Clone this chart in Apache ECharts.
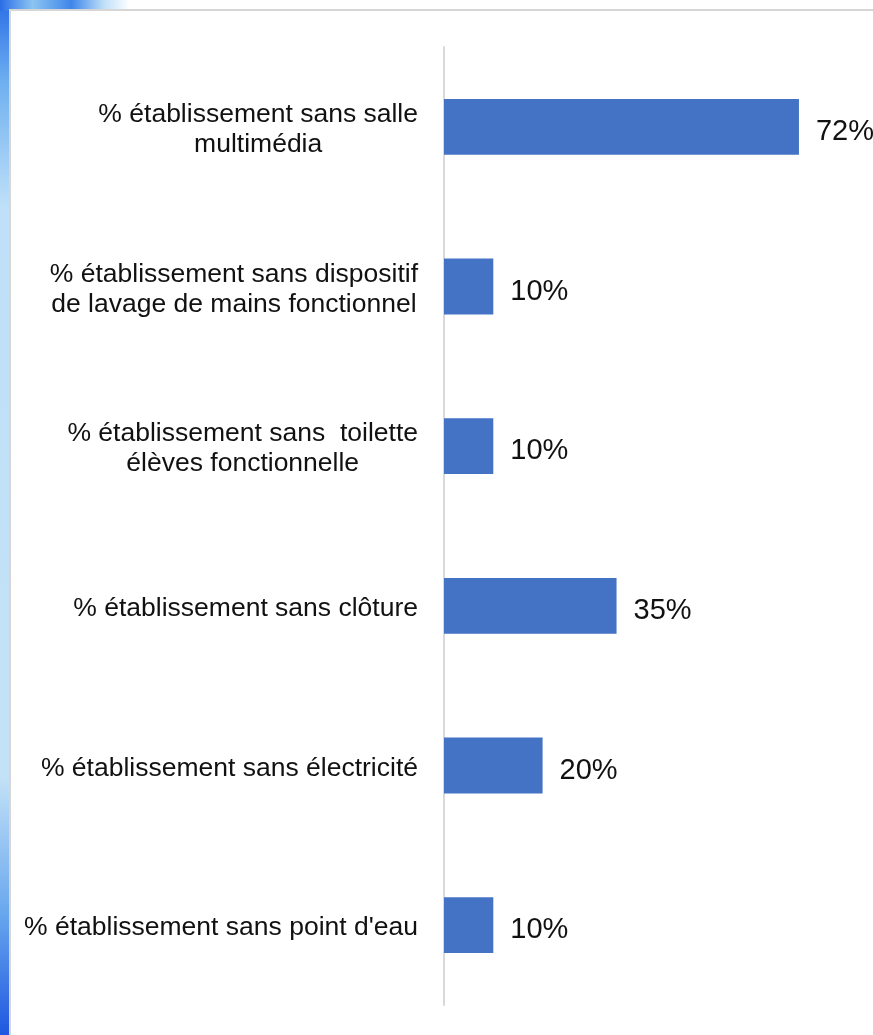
<!DOCTYPE html>
<html>
<head>
<meta charset="utf-8">
<script src="https://cdn.jsdelivr.net/npm/echarts@6/dist/echarts.min.js"></script>
<style>
html,body{margin:0;padding:0;background:#fff;}
#c{width:873px;height:1035px;}
</style>
</head>
<body>
<div id="c"></div>
<script>
const categories = [
  "% établissement sans salle\nmultimédia",
  "% établissement sans dispositif\nde lavage de mains fonctionnel",
  "% établissement sans  toilette\nélèves fonctionnelle",
  "% établissement sans clôture",
  "% établissement sans électricité",
  "% établissement sans point d'eau"
];
const values = [72, 10, 10, 35, 20, 10];

const FONT = '"Liberation Sans", Arial, sans-serif';
const chart = echarts.init(document.getElementById('c'), null, {renderer: 'canvas'});
chart.setOption({
  animation: false,
  backgroundColor: '#ffffff',
  graphic: [
    {type: 'rect', z: -10, silent: true, shape: {x: 0, y: 0, width: 11, height: 1035},
     style: {fill: new echarts.graphic.LinearGradient(0, 0, 0, 1, [
       {offset: 0, color: '#2a6de6'}, {offset: 0.08, color: '#6fb0f0'}, {offset: 0.2, color: '#bfe0f8'},
       {offset: 0.75, color: '#c4e2f7'}, {offset: 0.88, color: '#6aa8ee'}, {offset: 1, color: '#1f57e0'}])}},
    {type: 'rect', z: -10, silent: true, shape: {x: 0, y: 0, width: 130, height: 11},
     style: {fill: new echarts.graphic.LinearGradient(0, 0, 1, 0, [
       {offset: 0, color: '#2a6de6'}, {offset: 0.25, color: '#8cc4f2'}, {offset: 0.55, color: '#3f86ea'},
       {offset: 0.8, color: '#bfe0f8'}, {offset: 1, color: '#ffffff'}])}},
    {type: 'rect', z: -9, silent: true, shape: {x: 10, y: 10, width: 880, height: 1040},
     style: {fill: '#ffffff', stroke: '#d6d6d6', lineWidth: 2}}
  ],
  grid: {left: 444, top: 47, bottom: 30, width: 394.4, containLabel: false},
  xAxis: {
    type: 'value', min: 0, max: 80, show: false
  },
  yAxis: {
    type: 'category', data: categories, inverse: true,
    axisLine: {show: true, lineStyle: {color: '#d9d9d9', width: 2}},
    axisTick: {show: false},
    splitLine: {show: false},
    axisLabel: {
      margin: 26, align: 'right', padding: [6, 0, 0, 0],
      formatter: v => v.split('\n').map(l => '{c|' + l + '}').join('\n'),
      rich: {c: {align: 'center', fontSize: 26.5, lineHeight: 30, color: '#111111', fontFamily: FONT}}
    }
  },
  series: [{
    type: 'bar', data: values, barCategoryGap: '65%',
    itemStyle: {color: '#4472C4'},
    label: {show: true, position: 'right', distance: 17, offset: [0, 5], formatter: '{c}%',
      fontSize: 29, color: '#111111', fontFamily: FONT}
  }]
});
</script>
</body>
</html>
